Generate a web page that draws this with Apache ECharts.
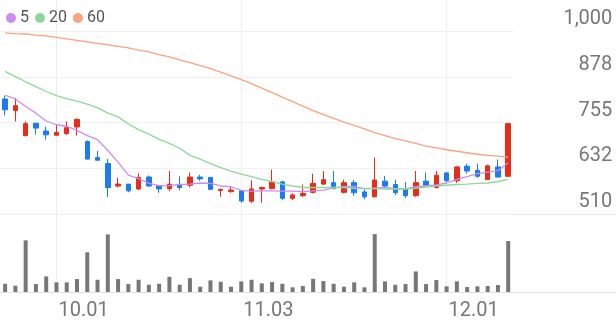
<!DOCTYPE html>
<html><head><meta charset="utf-8">
<script src="https://cdn.jsdelivr.net/npm/echarts@6/dist/echarts.min.js"></script>
<style>html,body{margin:0;padding:0;background:#fff}#c{width:616px;height:321px}</style>
</head><body><div id="c"></div>
<script>
// [open, close, low, high]
const ohlc = [
  [818,789,774,827],[787,800,758,821],[720,752,718,758],[753,740,723,754],[732,722,709,744],
  [721,728,720,749],[725,741,722,758],[743,763,720,766],[704,657,656,707],[661,654,654,679],
  [645,581,555,657],[585,590,581,607],[590,572,568,590],[577,608,574,619],[609,585,583,613],
  [586,577,567,586],[578,590,571,625],[589,581,574,611],[587,609,581,621],[609,604,599,615],
  [608,576,575,609],[573,576,556,578],[570,574,567,583],[572,545,540,574],[544,577,540,600],
  [577,581,540,583],[578,596,576,629],[596,552,547,599],[552,561,547,565],[559,565,556,589],
  [568,592,565,618],[590,602,587,625],[594,578,576,625],[568,594,565,602],[594,567,559,601],
  [569,556,550,576],[556,601,555,661],[598,585,581,612],[589,567,561,602],[576,559,553,596],
  [559,594,556,625],[598,587,585,621],[581,614,578,625],[620,599,596,623],[599,636,593,638],
  [638,625,618,645],[627,611,607,645],[602,639,601,642],[636,609,608,656],[611,752,611,752]
];
const ma5 = [828,818,798,780,759,749,745,734,720,709,680,649,614,605,592,586,586,589,590,593,
  592,585,583,573,571,572,572,571,571,570,572,574,580,583,584,578,579,581,578,577,
  583,585,588,593,603,610,618,622,626,647];
const ma20 = [892,878,864,851,838,827,819,812,804,795,780,770,751,736,724,710,699,686,667,657,
  645,634,625,617,610,603,597,590,585,581,581,581,581,581,579,578,578,577,577,577,
  579,582,585,587,589,590,592,593,597,603];
const ma60 = [995,993,992,989,987,983,979,975,971,967,963,959,955,949,944,937,931,923,915,907,
  899,890,880,870,859,847,835,823,811,799,787,776,766,756,747,738,728,720,712,706,
  699,692,687,682,678,674,670,667,665,662];
const volume = [83,63,520,80,157,97,97,130,400,123,580,130,80,123,73,83,153,73,140,53,
  117,103,53,107,123,87,100,83,47,60,133,110,83,53,97,47,583,107,73,80,
  207,80,120,57,107,50,57,60,70,513];
const tickIdx = [5, 23, 43];
const tickLabels = ['10.01', '11.03', '12.01'];
const yTickLabels = ['510', '632', '755', '878', '1,000'];
const emptySlots = 10;

const n = ohlc.length;
const W = 616;
const cats = Array.from({length: n}, (_, i) => String(i));
const volCats = Array.from({length: n + emptySlots}, (_, i) => String(i));
const priceW = W * n / (n + emptySlots);
const FONT = 'Roboto';
const UP = '#e62d1a', DOWN = '#1a7cf0';

const chart = echarts.init(document.getElementById('c'), null, {renderer: 'canvas'});
chart.setOption({
  animation: false,
  legend: {
    left: 1, top: 5, icon: 'circle', itemWidth: 10, itemHeight: 10, itemGap: 6,
    selectedMode: false, data: ['5', '20', '60'],
    textStyle: {fontFamily: FONT, fontSize: 16, color: '#555', padding: [0, 0, 0, -1]}
  },
  grid: [
    {left: 0, top: 31, width: priceW, height: 183},
    {left: 0, top: 0, right: 0, height: 294}
  ],
  xAxis: [
    {type: 'category', gridIndex: 0, data: cats, boundaryGap: true, show: false},
    {type: 'category', gridIndex: 1, data: volCats, boundaryGap: true,
      axisLine: {lineStyle: {color: '#e4e4e4', width: 1}},
      axisTick: {show: false},
      splitLine: {show: true, alignWithLabel: true,
        interval: (i) => tickIdx.includes(i), lineStyle: {color: '#eeeeee'}},
      axisLabel: {interval: (i) => tickIdx.includes(i),
        formatter: (v) => tickLabels[tickIdx.indexOf(Number(v))] || '',
        align: 'left', margin: 9, padding: [0, 0, 0, 2],
        fontFamily: FONT, fontSize: 20, color: '#777'}}
  ],
  yAxis: [
    {type: 'value', gridIndex: 0, position: 'right', min: 510, max: 1000, interval: 122.5,
      axisLine: {show: false}, axisTick: {show: false},
      splitLine: {lineStyle: {color: '#f1f1f1'}},
      axisLabel: {align: 'right', margin: 99, verticalAlign: 'bottom', lineHeight: 20,
        padding: [0, 0, 2, 0], fontFamily: FONT, fontSize: 20, color: '#777',
        formatter: (v) => yTickLabels[Math.round((v - 510) / 122.5)]}},
    {type: 'value', gridIndex: 1, min: 0, max: 2940, show: false}
  ],
  graphic: [{type: 'line', shape: {x1: 0, y1: 214.5, x2: W, y2: 214.5},
    style: {stroke: '#e8e8e8', lineWidth: 1}, z: 0, silent: true}],
  series: [
    {name: '5', type: 'line', xAxisIndex: 0, yAxisIndex: 0, data: ma5, symbol: 'none',
      itemStyle: {color: '#cf8cef'}, lineStyle: {color: '#cf8cef', width: 1.3}},
    {name: '20', type: 'line', xAxisIndex: 0, yAxisIndex: 0, data: ma20, symbol: 'none',
      itemStyle: {color: '#8cd99b'}, lineStyle: {color: '#8cd99b', width: 1.3}},
    {name: '60', type: 'line', xAxisIndex: 0, yAxisIndex: 0, data: ma60, symbol: 'none',
      itemStyle: {color: '#fba27e'}, lineStyle: {color: '#fba27e', width: 1.3}},
    {name: 'price', type: 'candlestick', xAxisIndex: 0, yAxisIndex: 0, data: ohlc, barWidth: 5,
      itemStyle: {color: UP, color0: DOWN, borderColor: UP, borderColor0: DOWN, borderWidth: 1}},
    {name: 'volume', type: 'bar', xAxisIndex: 1, yAxisIndex: 1, data: volume, barWidth: 4,
      itemStyle: {color: '#777777'}}
  ]
});
</script>
</body></html>
